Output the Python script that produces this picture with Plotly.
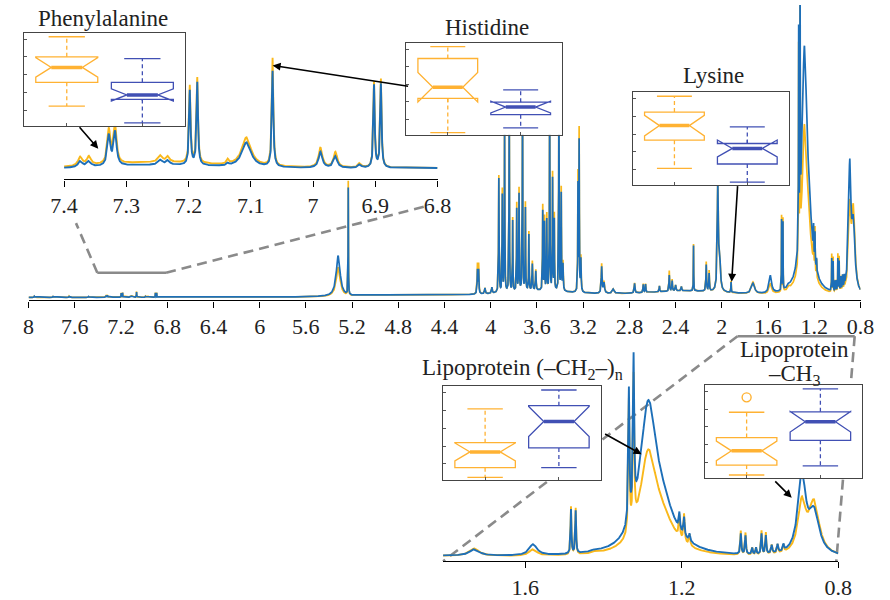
import numpy as np
import plotly.graph_objects as go

W, H = 890, 600
FONT = "Liberation Serif, DejaVu Serif, serif"
COL_A = "#F9B81B"      # spectrum, group A
COL_B = "#1D6FB8"      # spectrum, group B
BOX_A = "#FFB233"      # boxplot, group A
BOX_B = "#4150B4"      # boxplot, group B

# ---------------- 1H NMR peak tables (ppm, HWHM, height A, height B) ----------------
AROM_PPM = [7.95, 7.79, 7.65, 7.48, 7.374, 7.360, 7.328, 7.318, 7.245, 7.233, 7.198, 7.186,
            7.137, 7.107, 7.065, 6.988, 6.964, 6.925, 6.902, 6.891, 7.25]
AROM_HW = [0.003, 0.003, 0.003, 0.003, 0.004, 0.004, 0.0028, 0.0028, 0.004, 0.003, 0.0014, 0.0014,
           0.002, 0.009, 0.0014, 0.0035, 0.0035, 0.003, 0.0013, 0.0013, 0.12]
AROM_A = [0.004, 0.003, 0.004, 0.003, 0.0016, 0.0016, 0.0062, 0.0070, 0.0012, 0.0010, 0.0140, 0.0155,
          0.0008, 0.0052, 0.0196, 0.0036, 0.0028, 0.0008, 0.0155, 0.0160, 0.0013]
AROM_B = [0.004, 0.003, 0.003, 0.003, 0.0011, 0.0010, 0.0055, 0.0061, 0.0009, 0.0008, 0.0135, 0.0150,
          0.0004, 0.0045, 0.0174, 0.0029, 0.0021, 0.0006, 0.0150, 0.0152, 0.0008]

OLEF_PPM = [5.32, 5.233, 4.7]
OLEF_HW = [0.02, 0.0015, 0.35]
OLEF_A = [0.10, 0.39, 0.008]
OLEF_B = [0.14, 0.365, 0.008]

SUGAR_PPM = [4.115, 4.105, 4.05, 3.99, 3.93, 3.90, 3.88, 3.84, 3.81, 3.775, 3.755, 3.725, 3.70,
             3.67, 3.64, 3.61, 3.55, 3.535, 3.515, 3.49, 3.465, 3.45, 3.41, 3.39, 3.375,
             3.245, 3.235, 3.22, 3.04, 3.02]
SUGAR_HW = [0.003, 0.003, 0.004, 0.004, 0.0025, 0.002, 0.002, 0.002, 0.002, 0.002, 0.002, 0.002, 0.002,
            0.002, 0.003, 0.003, 0.002, 0.002, 0.002, 0.002, 0.002, 0.002, 0.002, 0.002, 0.003,
            0.002, 0.002, 0.003, 0.004, 0.006]
SUGAR_A = [0.10, 0.10, 0.02, 0.02, 0.40, 0.35, 0.62, 0.70, 0.25, 0.30, 0.35, 0.75, 0.30,
           0.20, 0.10, 0.07, 0.29, 0.25, 0.26, 0.72, 0.40, 0.26, 0.70, 0.35, 0.10,
           0.40, 0.55, 0.12, 0.10, 0.04]
SUGAR_B = [0.08, 0.08, 0.02, 0.02, 0.39, 0.33, 0.60, 0.68, 0.24, 0.28, 0.33, 0.72, 0.28,
           0.19, 0.09, 0.065, 0.27, 0.23, 0.24, 0.70, 0.38, 0.24, 0.68, 0.33, 0.09,
           0.36, 0.51, 0.11, 0.09, 0.035]

ALIPH_PPM = [2.94, 2.755, 2.68, 2.66, 2.54, 2.455, 2.43, 2.40, 2.35, 2.245, 2.135, 2.11,
             2.035, 2.02, 1.92]
ALIPH_HW = [0.01, 0.004, 0.003, 0.003, 0.003, 0.003, 0.003, 0.004, 0.004, 0.0015, 0.003, 0.003,
            0.005, 0.008, 0.002]
ALIPH_A = [0.015, 0.035, 0.03, 0.03, 0.02, 0.07, 0.04, 0.02, 0.015, 0.16, 0.10, 0.07,
           0.36, 0.12, 0.04]
ALIPH_B = [0.015, 0.033, 0.028, 0.028, 0.02, 0.055, 0.035, 0.02, 0.015, 0.155, 0.09, 0.06,
           0.36, 0.12, 0.035]

LIPID_PPM = [1.73, 1.58, 1.483, 1.471, 1.42, 1.335, 1.323, 1.286, 1.25, 1.206, 1.194, 1.18,
             1.049, 1.037, 1.02, 1.01, 0.996, 0.985, 0.97, 0.955, 0.94, 0.893, 0.862]
LIPID_HW = [0.015, 0.012, 0.0013, 0.0013, 0.01, 0.0018, 0.0018, 0.025, 0.04, 0.0018, 0.0018, 0.002,
            0.0015, 0.0015, 0.0015, 0.0015, 0.0015, 0.0015, 0.002, 0.002, 0.002, 0.012, 0.016]
LIPID_A = [0.04, 0.035, 0.26, 0.25, 0.01, 0.72, 0.80, 0.50, 0.15, 0.12, 0.15, 0.06,
           0.13, 0.12, 0.04, 0.04, 0.13, 0.12, 0.05, 0.05, 0.04, 0.27, 0.28]
LIPID_B = [0.035, 0.06, 0.24, 0.23, 0.01, 0.72, 0.82, 0.74, 0.20, 0.09, 0.10, 0.04,
           0.11, 0.10, 0.035, 0.035, 0.11, 0.10, 0.045, 0.045, 0.035, 0.42, 0.22]

BG_PPM = [3.6, 2.3]
BG_HW = [0.4, 0.5]
BG_A = [0.02, 0.02]
BG_B = [0.02, 0.02]

PPM = AROM_PPM + OLEF_PPM + SUGAR_PPM + ALIPH_PPM + LIPID_PPM + BG_PPM
HWHM = AROM_HW + OLEF_HW + SUGAR_HW + ALIPH_HW + LIPID_HW + BG_HW
HEIGHT_A = AROM_A + OLEF_A + SUGAR_A + ALIPH_A + LIPID_A + BG_A
HEIGHT_B = AROM_B + OLEF_B + SUGAR_B + ALIPH_B + LIPID_B + BG_B

MAIN_TICKS = [8, 7.6, 7.2, 6.8, 6.4, 6, 5.6, 5.2, 4.8, 4.4, 4, 3.6, 3.2, 2.8, 2.4, 2, 1.6, 1.2, 0.8]
AROM_TICKS = [7.4, 7.3, 7.2, 7.1, 7.0, 6.9, 6.8]
LIPID_TICKS = [1.6, 1.2, 0.8]

# ---------------- boxplot statistics (relative intensity, a.u.) ----------------
METABOLITES = ["Phenylalanine", "Histidine", "Lysine",
               "Lipoprotein (–CH<sub>2</sub>–)<sub>n</sub>", "Lipoprotein", "–CH<sub>3</sub>"]
A_UF = [95.7, 95.7, 95.7, 75.5, 70.5]
A_Q3 = [74.1, 82.8, 78.7, 39.6, 43.3]
A_MED = [62.8, 51.6, 64.2, 29.8, 29.1]
A_Q1 = [46.8, 39.5, 48.6, 13.0, 13.8]
A_LF = [21.3, 2.5, 18.4, 2.8, 3.2]
A_NOTCH = [10.5, 16.0, 11.0, 9.5, 10.5]
A_OUTLIER = [None, None, None, None, 86.5]
B_UF = [72.3, 48.7, 62.8, 95.5, 95.7]
B_Q3 = [46.8, 35.5, 45.0, 78.9, 71.0]
B_MED = [33.3, 30.1, 39.7, 62.1, 60.3]
B_Q1 = [28.4, 21.9, 23.0, 34.0, 40.4]
B_LF = [3.2, 7.5, 3.5, 13.0, 13.1]
B_NOTCH = [6.5, 6.4, 9.0, 16.0, 11.0]


def lorentz_sum(grid, heights):
    s = np.zeros_like(grid)
    for c, w, h in zip(PPM, HWHM, heights):
        s += h / (1.0 + ((grid - c) / w) ** 2)
    return s


def dom_x(x0, x1):
    return [x0 / W, x1 / W]


def dom_y(y_top, y_bot):
    return [1 - y_bot / H, 1 - y_top / H]


fig = go.Figure()

# ---------------- spectra: full range, aromatic zoom, aliphatic zoom ----------------
panels = [("x", "y", 8.0, 0.8, 0.0005, 1.7),
          ("x2", "y2", 7.4, 6.8, 0.0002, 1.9),
          ("x3", "y3", 1.81, 0.8, 0.0002, 1.9)]
for xa, ya, hi, lo, step, lw in panels:
    grid = np.arange(lo, hi + step / 2, step)
    for heights, col, nm in ((HEIGHT_A, COL_A, "Group A"), (HEIGHT_B, COL_B, "Group B")):
        fig.add_trace(go.Scatter(x=grid, y=lorentz_sum(grid, heights), mode="lines",
                                 line=dict(color=col, width=lw), name=nm,
                                 xaxis=xa, yaxis=ya, showlegend=False, hoverinfo="skip"))

tickfont = dict(family=FONT, size=22, color="#222")
axis_common = dict(showgrid=False, zeroline=False, showline=True, linecolor="black",
                   linewidth=1.3, ticks="outside", ticklen=6, tickwidth=1.3,
                   tickcolor="black", tickfont=tickfont, fixedrange=True)

layout = dict(
    width=W, height=H, margin=dict(l=0, r=0, t=0, b=0),
    paper_bgcolor="white", plot_bgcolor="white", showlegend=False,
    font=dict(family=FONT),
    xaxis=dict(domain=dom_x(15, 874), range=[8, 0.8], anchor="y",
               tickvals=MAIN_TICKS, ticktext=[f"{v:g}" for v in MAIN_TICKS], **axis_common),
    yaxis=dict(domain=dom_y(5, 303), range=[-0.01, 1.0], visible=False, fixedrange=True),
    xaxis2=dict(domain=dom_x(51.7, 437.3), range=[7.4, 6.8], anchor="y2",
                tickvals=AROM_TICKS, ticktext=[f"{v:g}" for v in AROM_TICKS], **axis_common),
    yaxis2=dict(domain=dom_y(55, 181), range=[-0.0012, 0.0215], visible=False, fixedrange=True),
    xaxis3=dict(domain=dom_x(443, 851), range=[1.81, 0.8], anchor="y3",
                tickvals=LIPID_TICKS, ticktext=[f"{v:g}" for v in LIPID_TICKS], **axis_common),
    yaxis3=dict(domain=dom_y(352, 566), range=[-0.0162, 1.137], visible=False, fixedrange=True),
)

# ---------------- boxplot insets ----------------
BOX_FRAMES = [(10, 177, 33, 127), (405, 566, 43, 136), (639, 800, 93, 187),
              (443, 606, 389, 484), (713, 876, 388, 482)]
BOX_W = 0.82
CAP = 0.24
frame_axis = dict(showgrid=False, zeroline=False, showline=True, mirror=True,
                  linecolor="#444", linewidth=1.4, ticks="inside", ticklen=3,
                  tickcolor="#555", showticklabels=False, fixedrange=True)

for i, (x0, x1, y0, y1) in enumerate(BOX_FRAMES):
    k = i + 4
    xa, ya = f"x{k}", f"y{k}"
    layout[f"xaxis{k}"] = dict(domain=dom_x(x0, x1), range=[0.43, 2.57], anchor=ya,
                               tickvals=[1, 2], **frame_axis)
    layout[f"yaxis{k}"] = dict(domain=dom_y(y0, y1), range=[0, 100], anchor=xa,
                               tickvals=[17, 36, 55, 74, 93], **frame_axis)
    groups = [(1, BOX_A, A_UF[i], A_Q3[i], A_MED[i], A_Q1[i], A_LF[i], A_NOTCH[i], A_OUTLIER[i]),
              (2, BOX_B, B_UF[i], B_Q3[i], B_MED[i], B_Q1[i], B_LF[i], B_NOTCH[i], None)]
    for pos, col, uf, q3, med, q1, lf, notch, outl in groups:
        fig.add_trace(go.Box(x=[pos], q1=[q1], median=[med], q3=[q3],
                             lowerfence=[q1], upperfence=[q3], notchspan=[notch],
                             notched=True, notchwidth=0.25, width=BOX_W, whiskerwidth=0,
                             line=dict(color=col, width=1.3), fillcolor="rgba(0,0,0,0)",
                             boxpoints=False, xaxis=xa, yaxis=ya, hoverinfo="skip"))
        # dashed whisker stems
        fig.add_trace(go.Scatter(x=[pos, pos, None, pos, pos], y=[q3, uf, None, q1, lf],
                                 mode="lines", line=dict(color=col, width=1.3, dash="4px,3px"),
                                 xaxis=xa, yaxis=ya, hoverinfo="skip"))
        # whisker caps
        fig.add_trace(go.Scatter(x=[pos - CAP, pos + CAP, None, pos - CAP, pos + CAP],
                                 y=[uf, uf, None, lf, lf], mode="lines",
                                 line=dict(color=col, width=1.3),
                                 xaxis=xa, yaxis=ya, hoverinfo="skip"))
        # median bar
        half = BOX_W / 2 * 0.5
        fig.add_trace(go.Scatter(x=[pos - half, pos + half], y=[med, med], mode="lines",
                                 line=dict(color=col, width=3.5),
                                 xaxis=xa, yaxis=ya, hoverinfo="skip"))
        if outl is not None:
            fig.add_trace(go.Scatter(x=[pos], y=[outl], mode="markers",
                                     marker=dict(symbol="circle-open", size=9, color=col,
                                                 line=dict(width=1.4)),
                                     xaxis=xa, yaxis=ya, hoverinfo="skip"))

fig.update_layout(**layout)

# ---------------- titles ----------------
TITLE_POS = [(92, 19), (488, 28), (722, 76), (525, 372), (806, 352), (806, 378)]
for name, (tx, ty) in zip(METABOLITES, TITLE_POS):
    fig.add_annotation(text=name, x=tx / W, y=1 - ty / H, xref="paper", yref="paper",
                       showarrow=False, xanchor="center", yanchor="middle",
                       font=dict(family=FONT, size=23, color="#222"))

# ---------------- arrows (head, tail) in pixels ----------------
ARROWS = [((87, 150), (67, 127)), ((267, 66), (404, 87)), ((741, 284), (747, 187)),
          ((648, 458), (610, 437)), ((803, 502), (785, 484))]
for (hx, hy), (tx, ty) in ARROWS:
    fig.add_annotation(text="", x=hx / W, y=1 - hy / H, xref="paper", yref="paper",
                       ax=tx - hx, ay=ty - hy, showarrow=True, arrowhead=2, arrowsize=1,
                       arrowwidth=1.6, arrowcolor="black")

# ---------------- zoom connectors ----------------
def seg(xa, ya, xb, yb, dash=None):
    fig.add_shape(type="line", xref="paper", yref="paper", layer="below",
                  x0=xa / W, y0=1 - ya / H, x1=xb / W, y1=1 - yb / H,
                  line=dict(color="#8a8a8a", width=2.6, dash=dash))

seg(86, 275, 157, 275)
seg(86, 275, 64, 225, "10px,6px")
seg(157, 275, 425, 208, "10px,6px")
seg(747, 339, 868, 339)
seg(747, 339, 443, 566, "10px,6px")
seg(868, 339, 849, 566, "10px,6px")

fig.write_html("out.html")
